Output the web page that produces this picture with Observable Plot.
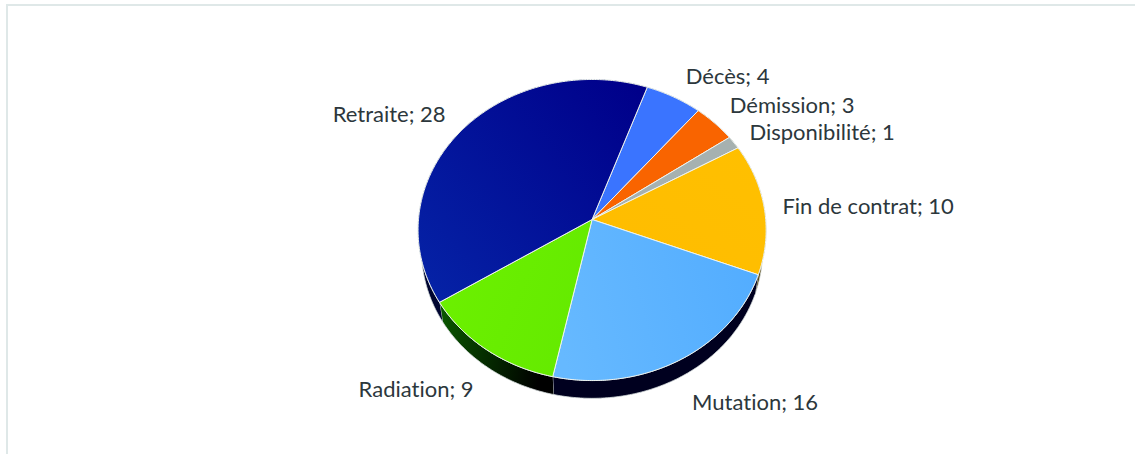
<!DOCTYPE html>
<html lang="fr">
<head>
<meta charset="utf-8">
<script src="https://cdn.jsdelivr.net/npm/d3@7"></script>
<script src="https://cdn.jsdelivr.net/npm/@observablehq/plot@0.6"></script>
<style>
  html, body { margin: 0; padding: 0; background: #fff; overflow: hidden; }
  #chart { position: relative; width: 1135px; height: 454px; }
  #chart::before {
    content: ""; position: absolute; left: 6px; top: 4px; right: 0; bottom: 0;
    border-left: 2px solid #dfe8e8; border-top: 2px solid #dfe8e8;
  }
  #chart svg { position: absolute; left: 0; top: 0; background: transparent; font-variant-ligatures: none; }
</style>
</head>
<body>
<div id="chart"></div>
<script>
// Departures by reason, clockwise from the top of the pie
const categories = ["Décès", "Démission", "Disponibilité", "Fin de contrat", "Mutation", "Radiation", "Retraite"];
const values = [4, 3, 1, 10, 16, 9, 28];

const topFills = ["#3a74ff", "#f96400", "#a6b1b0", "url(#fin)", "url(#mutation)", "url(#radiation)", "url(#retraite)"];
const sideFills = ["#10204f", "#4f2000", "#333838", "#4f3c00", "#00001f", "url(#radiationSide)", "#000530"];

// Tilted-disc projection: the pie's centre sits above the middle of its outline
const tilt = {rx: 173.6, ry: 149.8, k: 0.0698, depth: 21, shrink: 0.98};
const startAngle = 19.8 * Math.PI / 180;

function rim(theta, shrink = 1, drop = 0) {
  const w = 1 + tilt.k * Math.cos(theta);
  return {
    x: shrink * tilt.rx * Math.sin(theta) / w,
    y: shrink * tilt.ry * Math.cos(theta) / w - drop
  };
}

function arcAngles(a) {
  const n = Math.max(2, Math.ceil((a.endAngle - a.startAngle) / 0.01));
  return d3.range(n + 1).map((i) => a.startAngle + (a.endAngle - a.startAngle) * i / n);
}

const arcs = d3.pie().sort(null).startAngle(startAngle).endAngle(startAngle + 2 * Math.PI)(values);

const wedges = arcs.flatMap((a, i) => [
  {category: categories[i], x: 0, y: 0},
  ...arcAngles(a).map((t) => ({category: categories[i], ...rim(t)})),
  {category: categories[i], x: 0, y: 0}
]);

const sides = arcs.flatMap((a, i) => {
  const angles = arcAngles(a);
  return [
    ...angles.map((t) => ({category: categories[i], fill: sideFills[i], ...rim(t)})),
    ...angles.reverse().map((t) => ({category: categories[i], fill: sideFills[i], ...rim(t, tilt.shrink, tilt.depth)}))
  ];
});

// Label placement, kept apart from the values
const labelSpots = new Map([
  ["Décès", [135.5, 143]],
  ["Démission", [200, 114]],
  ["Disponibilité", [230, 87]],
  ["Fin de contrat", [276, 13]],
  ["Mutation", [163, -183]],
  ["Radiation", [-176, -170]],
  ["Retraite", [-203, 105]]
]);
const labels = categories.map((c, i) => ({
  text: `${c}; ${values[i]}`,
  x: labelSpots.get(c)[0],
  y: labelSpots.get(c)[1]
}));

function gradients() {
  const defs = d3.create("svg:defs");
  const add = (id, x1, y1, x2, y2, c1, c2) => {
    const g = defs.append("linearGradient").attr("id", id)
      .attr("x1", x1).attr("y1", y1).attr("x2", x2).attr("y2", y2);
    g.append("stop").attr("offset", 0).attr("stop-color", c1);
    g.append("stop").attr("offset", 1).attr("stop-color", c2);
  };
  add("retraite", 1, 0.1, 0, 0.9, "#00008a", "#0522a6");
  add("mutation", 0, 0.6, 1, 0.4, "#66b9ff", "#53adff");
  add("radiation", 0, 0.3, 1, 0.7, "#6cf000", "#64ea00");
  add("fin", 0, 1, 1, 0, "#ffbc00", "#ffc000");
  add("radiationSide", 0, 0, 1, 0.2, "#0a5a00", "#000000");
  return defs.node();
}

const chart = Plot.plot({
  width: 1135,
  height: 454,
  margin: 0,
  x: {axis: null, domain: [-591.6, 543.4]},
  y: {axis: null, domain: [-235, 219]},
  color: {domain: categories, range: topFills},
  marks: [
    gradients,
    Plot.line(sides, {x: "x", y: "y", z: "category", fill: {value: "fill", scale: null}, stroke: "#d5dddd", strokeWidth: 0.8}),
    Plot.line(wedges, {x: "x", y: "y", z: "category", fill: "category", stroke: "#eef3ee", strokeWidth: 1}),
    Plot.text(labels, {
      x: "x", y: "y", text: "text",
      fill: "#2c373c", fontSize: 22, fontFamily: "Lato"
    })
  ]
});

document.getElementById("chart").append(chart);
</script>
</body>
</html>
